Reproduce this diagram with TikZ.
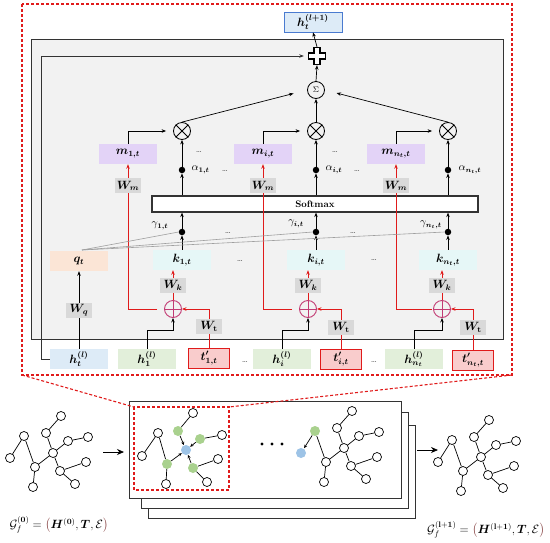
\documentclass[tikz,border=0pt]{standalone}
\usepackage{amsmath,bm}
\usetikzlibrary{arrows.meta}
\definecolor{dred}{HTML}{E01B1B}
\definecolor{bggray}{HTML}{F2F2F2}
\definecolor{wgray}{HTML}{D9D9D9}
\definecolor{hblue}{HTML}{DDEBF7}
\definecolor{hbord}{HTML}{4A7BD0}
\definecolor{hgreen}{HTML}{E2EFDA}
\definecolor{tpink}{HTML}{F9CCCC}
\definecolor{mpurp}{HTML}{E3D3F7}
\definecolor{kcyan}{HTML}{E6F7F7}
\definecolor{qorange}{HTML}{FBE5D6}
\definecolor{opcol}{HTML}{C23B74}
\definecolor{ngreen}{HTML}{A9D18E}
\definecolor{nblue}{HTML}{9DC3E6}
\definecolor{pbrown}{HTML}{8B4A4A}
\definecolor{dline}{HTML}{333333}
\newcommand\mytreecore[1]{%
  \node[gn] (#1-1) at (61,416) {};
  \node[gn] (#1-4) at (46,433) {};
  \node[gn] (#1-5) at (68,441) {};
  \node[gn] (#1-6) at (88,437) {};
  \node[gn] (#1-7) at (53,453) {};
  \node[gn] (#1-8) at (35,467) {};
  \node[gn] (#1-9) at (60,471) {};
  \node[gn] (#1-10) at (86,462) {};
  \node[gn] (#1-11) at (33,487) {};
  \node[gn] (#1-12) at (75,484) {};
  \draw[edge] (#1-1)--(#1-4) (#1-4)--(#1-7) (#1-7)--(#1-5) (#1-5)--(#1-6)
    (#1-8)--(#1-7) (#1-8)--(#1-11) (#1-7)--(#1-9) (#1-9)--(#1-10) (#1-9)--(#1-12);
}
\newcommand\mytreefull[1]{\mytreecore{#1}%
  \node[gn] (#1-2) at (24,436) {};
  \node[gn] (#1-3) at (10,458) {};
  \draw[edge] (#1-2)--(#1-3) (#1-2)--(#1-8);}
\begin{document}
\begin{tikzpicture}[x=1pt,y=-1pt,
  font=\fontsize{11.5}{13}\selectfont,
  >={Stealth[length=4.5pt,width=3.5pt]},
  lbox/.style={inner sep=0,minimum width=58pt,minimum height=20pt},
  tbox/.style={inner sep=0,minimum width=41pt,minimum height=20pt,draw=dred,fill=tpink,line width=1pt},
  wbox/.style={fill=wgray,inner sep=0,minimum width=26pt,minimum height=15pt},
  gn/.style={circle,draw,fill=white,line width=0.7pt,minimum size=9pt,inner sep=0},
  cn/.style={circle,minimum size=10pt,inner sep=0},
  edge/.style={line width=0.7pt},
  dotn/.style={circle,fill=black,minimum size=6.5pt,inner sep=0},
  opl/.style={circle,draw=opcol,line width=0.9pt,minimum size=17pt,inner sep=0},
  otm/.style={circle,draw,line width=0.8pt,minimum size=17pt,inner sep=0},
  reddash/.style={draw=dred,dash pattern=on 3pt off 2pt,line width=1.1pt},
  conn/.style={->,line width=0.7pt},
  sconn/.style={-{Stealth[length=3.5pt,width=3pt]},line width=0.7pt},
  bconn/.style={-{Stealth[length=7pt,width=6pt]},line width=0.8pt},
  rconn/.style={->,draw=dred,line width=0.9pt},
  qline/.style={draw=gray!75,line width=0.6pt},
  card/.style={draw=dline,fill=white,line width=0.8pt,inner sep=0},
  smalltxt/.style={font=\fontsize{10.5}{12}\selectfont},
  dts/.style={font=\small,inner sep=0}
]
\useasboundingbox (0,0) rectangle (550,542);
% ===== upper panel =====
\draw[draw=dline,fill=bggray,line width=0.8pt] (31,39) rectangle (503,339);

\node[lbox,fill=hblue,draw=hbord,line width=0.8pt] (hn) at (313,22) {$\bm{h_t^{(l+1)}}$};
\node[minimum size=18pt,inner sep=0] (plus) at (317,56) {};
\draw[line width=1.5pt,fill=white,shift={(317,56)}]
  (-3.2,-8.5) -- (3.2,-8.5) -- (3.2,-3.2) -- (8.5,-3.2) -- (8.5,3.2) -- (3.2,3.2) -- (3.2,8.5) -- (-3.2,8.5) -- (-3.2,3.2) -- (-8.5,3.2) -- (-8.5,-3.2) -- (-3.2,-3.2) -- cycle;
\node[otm] (sg) at (316,90) {\footnotesize$\Sigma$};
\node[otm] (o1) at (182,131) {};
\node[otm] (o2) at (316,131) {};
\node[otm] (o3) at (448,131) {};
\foreach \o in {o1,o2,o3} \draw[line width=0.8pt] (\o.45)--(\o.225) (\o.135)--(\o.315);

\node[lbox,fill=mpurp] (m1) at (128,154) {$\bm{m_{1,t}}$};
\node[lbox,fill=mpurp] (m2) at (263,154) {$\bm{m_{i,t}}$};
\node[lbox,fill=mpurp] (m3) at (396,154) {$\bm{m_{n_t,t}}$};

\node[dotn] (a1) at (182,170) {};
\node[dotn] (a2) at (316,170) {};
\node[dotn] (a3) at (448,170) {};

\node[draw=dline,fill=white,line width=1.2pt,minimum width=326pt,minimum height=16pt,inner sep=0,font=\fontsize{9.5}{10}\selectfont\bfseries] (sm) at (315,204) {Softmax};

\node[dotn] (g1) at (182,232) {};
\node[dotn] (g2) at (316,232) {};
\node[dotn] (g3) at (448,232) {};

\node[lbox,fill=kcyan] (k1) at (182,260) {$\bm{k_{1,t}}$};
\node[lbox,fill=kcyan] (k2) at (316,260) {$\bm{k_{i,t}}$};
\node[lbox,fill=kcyan] (k3) at (448,260) {$\bm{k_{n_t,t}}$};
\node[lbox,fill=qorange] (q) at (79,261) {$\bm{q_t}$};

\node[opl] (p1) at (173,309) {};
\node[opl] (p2) at (308,309) {};
\node[opl] (p3) at (442,309) {};
\foreach \p in {p1,p2,p3} \draw[draw=opcol,line width=0.9pt] (\p.north)--(\p.south) (\p.west)--(\p.east);

\node[lbox,fill=hblue] (ht) at (79,359) {$\bm{h_t^{(l)}}$};
\node[lbox,fill=hgreen] (h1) at (147,359) {$\bm{h_1^{(l)}}$};
\node[tbox] (t1) at (209,358) {$\bm{t'_{1,t}}$};
\node[lbox,fill=hgreen] (hi) at (282,359) {$\bm{h_i^{(l)}}$};
\node[tbox] (ti) at (341,359) {$\bm{t'_{i,t}}$};
\node[lbox,fill=hgreen] (hnt) at (414,359) {$\bm{h_{n_t}^{(l)}}$};
\node[tbox] (tn) at (473,360) {$\bm{t'_{n_t,t}}$};

% connectors top
\draw[conn] (plus.north) -- (hn.south);
\draw[conn] (sg.north) -- (plus.south);
\draw[conn] (o2.north) -- (sg.south);
\draw[conn,shorten >=14pt] (o1.north) -- (sg.west);
\draw[conn,shorten >=12pt] (o3.north) -- (sg.east);
\draw[conn,shorten >=7pt] (m1.north) |- (o1.west);
\draw[conn,shorten >=7pt] (m2.north) |- (o2.west);
\draw[conn,shorten >=7pt] (m3.north) |- (o3.west);
\foreach \i in {1,2,3} {
  \draw[conn] (a\i.north) -- (o\i.south);
  \draw[conn] (a\i |- sm.north) -- (a\i.south);
  \draw[conn] (g\i.north) -- (g\i |- sm.south);
  \draw[conn] (k\i.north) -- (g\i.south);
}
% red paths
\draw[rconn] (p1.north) -- node[wbox] (wk1) {$\bm{W_k}$} (p1 |- k1.south);
\draw[rconn] (p2.north) -- node[wbox] (wk2) {$\bm{W_k}$} (p2 |- k2.south);
\draw[rconn] (p3.north) -- node[wbox] (wk3) {$\bm{W_k}$} (p3 |- k3.south);
\draw[rconn,shorten <=7pt] (p1.west) -- (m1 |- p1.west) -- node[wbox,pos=0.85] (wm1) {$\bm{W_m}$} (m1.south);
\draw[rconn,shorten <=7pt] (p2.west) -- (m2 |- p2.west) -- node[wbox,pos=0.85] (wm2) {$\bm{W_m}$} (m2.south);
\draw[rconn,shorten <=1pt] (p3.west) -- (m3 |- p3.west) -- node[wbox,pos=0.85] (wm3) {$\bm{W_m}$} (m3.south);
\draw[rconn] (t1.north) |- node[wbox,pos=0.27] (wt1) {$\bm{W}_{\mathbf{t}}$} (p1.east);
\draw[rconn] (ti.north) |- node[wbox,pos=0.27] (wt2) {$\bm{W}_{\mathbf{t}}$} (p2.east);
\draw[rconn] (tn.north) |- node[wbox,pos=0.27] (wt3) {$\bm{W}_{\mathbf{t}}$} (p3.east);
% h -> oplus
\draw[conn] (h1.north) -- ++(0,-18) -| (p1.south);
\draw[conn] (hi.north) -- ++(0,-18) -| (p2.south);
\draw[conn] (hnt.north) -- ++(0,-18) -| (p3.south);
% residual
\draw[conn,draw=dline,shorten >=4pt] (ht.west) -- ++(-8,0) |- (plus.west);
% query
\draw[conn] (ht.north) -- node[wbox] (wq) {$\bm{W_q}$} (q.south);
\coordinate (qo) at (82,250);
\draw[qline] (qo) -- (g1.west);
\draw[qline] (qo) -- (g2.west);
\draw[qline] (qo) -- (g3.west);

% labels
\node[smalltxt,anchor=west] (al1) at (188,170) {$\alpha_{\bm{1,t}}$};
\node[smalltxt,anchor=west] (al2) at (322,170) {$\alpha_{\bm{i,t}}$};
\node[smalltxt,anchor=west] (al3) at (455,170) {$\alpha_{\bm{n_t,t}}$};
\node[smalltxt] (gl1) at (160,226) {$\gamma_{\bm{1,t}}$};
\node[smalltxt] (gl2) at (296,224) {$\gamma_{\bm{i,t}}$};
\node[smalltxt] (gl3) at (431,225) {$\gamma_{\bm{n_t,t}}$};
\node[dts] (d1) at (199,152) {\ldots};
\node[dts] (d2) at (335,152) {\ldots};
\node[dts] (d3) at (225,171) {\ldots};
\node[dts] (d4) at (357,171) {\ldots};
\node[dts] (d5) at (228,233) {\ldots};
\node[dts] (d6) at (353,233) {\ldots};
\node[dts] (d7) at (240,261) {\ldots};
\node[dts] (d8) at (374,260) {\ldots};
\node[dts] (d9) at (245,362) {\ldots};
\node[dts] (d10) at (374,362) {\ldots};

% ===== lower part =====
\draw[reddash] (22,4) rectangle (512,375);
\node[card,minimum width=267pt,minimum height=93pt] (card3) at (281.5,471.5) {};
\node[card,minimum width=267pt,minimum height=96pt] (card2) at (274.5,460) {};
\node[card,minimum width=272pt,minimum height=97pt] (card1) at (265,449.5) {};

\mytreefull{L}
\begin{scope}[shift={(428,4)}]\mytreefull{R}\end{scope}
\begin{scope}[shift={(291,-5)}]
  \mytreecore{C}
  \node[cn,fill=ngreen] (C-2) at (24,436) {};
  \node[cn,fill=nblue] (C-3) at (10,458) {};
  \draw[edge] (C-2)--(C-8);
  \draw[sconn,shorten >=0.5pt] (C-2)--(C-3);
\end{scope}

% small graph in dashed box
\node[gn] (s1) at (193,413) {};
\node[gn] (s2) at (158,433) {};
\node[gn] (s3) at (142,456) {};
\node[gn] (s6) at (222,435) {};
\node[gn] (s9) at (218,459) {};
\node[gn] (s10) at (166,484) {};
\node[gn] (s11) at (207,482) {};
\node[cn,fill=ngreen] (s4) at (178,431) {};
\node[cn,fill=ngreen] (s5) at (200,439) {};
\node[cn,fill=ngreen] (s7) at (167,464) {};
\node[cn,fill=ngreen] (s8) at (193,468) {};
\node[cn,fill=nblue] (sc) at (186,450) {};
\draw[edge] (s1)--(s4) (s2)--(s3) (s2)--(s7) (s7)--(s10) (s5)--(s6) (s8)--(s9) (s8)--(s11);
\foreach \s in {s4,s5,s7,s8} \draw[sconn] (\s)--(sc);
\draw[reddash] (134,407) rectangle (229,490);

\draw[reddash] (22,375) -- (134,407);
\draw[reddash] (512,375) -- (229,407);

\foreach \x in {262,272,282} \fill (\x,444) circle (1.7pt);

\coordinate (arL1) at (103,452);
\coordinate (arL2) at (124,452);
\draw[bconn] (arL1) -- (arL2);
\coordinate (arR1) at (417,450);
\coordinate (arR2) at (438,450);
\draw[bconn] (arR1) -- (arR2);

\node[font=\fontsize{12}{14}\selectfont] (lab0) at (59,525) {$\mathcal{G}_f^{(\mathbf{0})} = \textcolor{pbrown}{\big(}\bm{H}^{(\mathbf{0})}, \bm{T}, \mathcal{E}\textcolor{pbrown}{\big)}$};
\node[font=\fontsize{12}{14}\selectfont] (lab1) at (486,530) {$\mathcal{G}_f^{(\mathbf{l+1})} = \textcolor{pbrown}{\big(}\bm{H}^{(\mathbf{l+1})}, \bm{T}, \mathcal{E}\textcolor{pbrown}{\big)}$};
\end{tikzpicture}
\end{document}
